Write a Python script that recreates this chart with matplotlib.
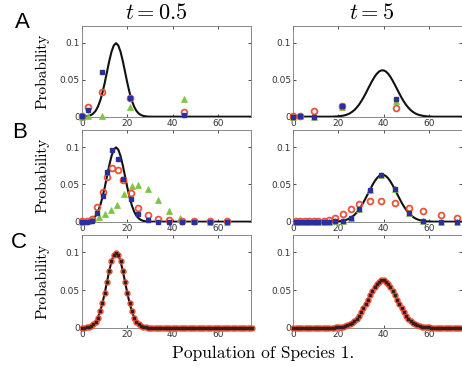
import numpy as np
import matplotlib
matplotlib.use("Agg")
import matplotlib.pyplot as plt

plt.rcParams['mathtext.fontset'] = 'cm'

# exact distribution (black curve), integer populations 0..75
pop = np.arange(0, 76)
exact_t05 = [0.0001, 0.0002, 0.0005, 0.0011, 0.0023, 0.0044, 0.0079, 0.0135, 0.0216, 0.0324,
             0.0456, 0.0605, 0.0753, 0.0880, 0.0966, 0.0997, 0.0966, 0.0880, 0.0753, 0.0605,
             0.0456, 0.0324, 0.0216, 0.0135, 0.0079, 0.0044, 0.0023, 0.0011, 0.0005, 0.0002,
             0.0001, 0, 0, 0, 0, 0, 0, 0, 0, 0,
             0, 0, 0, 0, 0, 0, 0, 0, 0, 0,
             0, 0, 0, 0, 0, 0, 0, 0, 0, 0,
             0, 0, 0, 0, 0, 0, 0, 0, 0, 0,
             0, 0, 0, 0, 0, 0]
exact_t5 = [0, 0, 0, 0, 0, 0, 0, 0, 0, 0,
            0, 0, 0, 0, 0, 0, 0, 0, 0.0002, 0.0003,
            0.0005, 0.0009, 0.0014, 0.0021, 0.0031, 0.0045, 0.0065, 0.0089, 0.0121, 0.0159,
            0.0204, 0.0255, 0.0312, 0.0372, 0.0432, 0.0489, 0.0541, 0.0583, 0.0613, 0.0628,
            0.0628, 0.0613, 0.0583, 0.0541, 0.0489, 0.0432, 0.0372, 0.0312, 0.0255, 0.0204,
            0.0159, 0.0121, 0.0089, 0.0065, 0.0045, 0.0031, 0.0021, 0.0014, 0.0009, 0.0005,
            0.0003, 0.0002, 0, 0, 0, 0, 0, 0, 0, 0,
            0, 0, 0, 0, 0, 0]

# row A
a05_x = [0, 2.8, 8.8, 21.1, 44.8]
a05_blue = [0.0005, 0.0095, 0.060, 0.025, 0.0025]
a05_red = [0.001, 0.0136, 0.0336, 0.025, 0.0068]
a05_green = [0.0, 0.0005, 0.0003, 0.0128, 0.0237]
a5_x = [0, 3, 9.3, 21.5, 45.6]
a5_blue = [0.0, 0.0008, 0.0, 0.015, 0.0235]
a5_red = [0.0005, 0.001, 0.0078, 0.015, 0.0123]
a5_green = [0.0, 0.001, 0.0, 0.0138, 0.021]

# row B
b05_x = [0, 2, 4.5, 6.8, 9.1, 11.1, 13.1, 15.7, 18.2, 21.4, 24.8, 29.2, 33.6, 38.5, 43.9, 49.5, 56.4, 63.7]
b05_red = [0.0005, 0.001, 0.004, 0.020, 0.040, 0.060, 0.0725, 0.070, 0.056, 0.038, 0.0187, 0.009,
           0.0036, 0.002, 0.0015, 0.001, 0.001, 0.001]
b05_blue = [0, 0, 0.001, 0.012, 0.035, 0.066, 0.096, 0.084, 0.057, 0.030, 0.010, 0.002,
            0, 0, 0, 0, 0, 0]
b05_gx = [0, 2.5, 5.0, 7.6, 10.1, 12.8, 15.3, 18.5, 21.9, 24.8, 29.2, 33.6, 38.5, 43.2, 49.5, 56.4, 63.7]
b05_green = [0, 0.001, 0.003, 0.006, 0.0103, 0.0156, 0.0223, 0.0378, 0.0476, 0.049, 0.0445, 0.029,
             0.0143, 0.0045, 0.001, 0, 0]
b5_x = [1, 3, 5, 7, 9, 11, 13.5, 16.0, 18.5, 22.2, 25.6, 29.3, 33.8, 39.0, 44.9, 51.1, 57.5, 65.2, 72.6]
b5_red = [0.0005, 0.0005, 0.0005, 0.0005, 0.0007, 0.001, 0.0015, 0.0027, 0.005, 0.0108, 0.0171,
          0.0232, 0.0278, 0.028, 0.0246, 0.019, 0.014, 0.0085, 0.0045]
b5_blue = [0, 0, 0, 0, 0, 0, 0, 0.0001, 0.0003, 0.0015, 0.0056, 0.0172, 0.042, 0.0628, 0.0438,
           0.0117, 0.0011, 0, 0]

W, H = 462, 367
fig = plt.figure(figsize=(W/100, H/100), dpi=100)

def make_ax(left, top, bottom, right):
    return fig.add_axes([left/W, 1-bottom/H, (right-left)/W, (bottom-top)/H])

rows = [(26, 116.7), (130, 221.7), (235, 327.7)]
left_axes = [make_ax(82, t, b, 251) for t, b in rows]
right_axes = [make_ax(293.3, t, b, 461.5) for t, b in rows]

BLUE = '#2b2f9e'
RED = '#ee5236'
GREEN = '#7dc444'

def markers(ax, x, red, blue, green, gx=None):
    ax.plot(gx if gx is not None else x, green, '^', ms=3.8, mfc=GREEN, mec=GREEN, mew=0.5,
            clip_on=False, zorder=3)
    ax.plot(x, red, 'o', ms=4.2, mfc='none', mec=RED, mew=1.3, clip_on=False, zorder=4)
    ax.plot(x, blue, 's', ms=2.6, mfc=BLUE, mec=BLUE, clip_on=False, zorder=5)

for ax in left_axes:
    ax.plot(pop, exact_t05, color='#111111', lw=1.5, zorder=2)
for ax in right_axes:
    ax.plot(pop, exact_t5, color='#111111', lw=1.5, zorder=2)

markers(left_axes[0], a05_x, a05_red, a05_blue, a05_green)
markers(right_axes[0], a5_x, a5_red, a5_blue, a5_green)
markers(left_axes[1], b05_x, b05_red, b05_blue, b05_green, b05_gx)
markers(right_axes[1], b5_x, b5_red, b5_blue, b5_blue)

# row C: all estimates sit on the exact curve
for ax, ex in [(left_axes[2], exact_t05), (right_axes[2], exact_t5)]:
    ax.plot(pop, ex, 'o', ms=3.6, mfc='none', mec=RED, mew=1.0, clip_on=False, zorder=4)
    ax.plot(pop, ex, 's', ms=1.8, mfc='#3a1c1c', mec='#3a1c1c', clip_on=False, zorder=5)

for ax in left_axes + right_axes:
    ax.set_xlim(0, 74.5)
    ax.set_ylim(0, 0.123)
    ax.set_xticks([0, 20, 40, 60])
    ax.set_yticks([0, 0.05, 0.1])
    ax.set_yticklabels(['0', '0.05', '0.1'])
    ax.tick_params(direction='in', top=True, right=True, length=2.5, width=0.6,
                   labelsize=6.5, pad=1.5, colors='#333333')
    for s in ax.spines.values():
        s.set_linewidth(0.6)
        s.set_color('#777777')

for t, b in rows:
    fig.text(42/W, 1-(t+b)/2/H, 'Probability', fontfamily='cmr10', fontsize=11,
             rotation=90, ha='center', va='center')

fig.text(156/W, 1-13/H, r'$t = 0.5$', fontsize=16, ha='center', va='center')
fig.text(372/W, 1-13/H, r'$t = 5$', fontsize=16, ha='center', va='center')
for lab, (x, y) in zip('ABC', [(22, 22), (19.5, 132), (18.5, 242)]):
    fig.text(x/W, 1-y/H, lab, fontfamily='Liberation Sans', fontsize=16, ha='center', va='center')
fig.text(263/W, 1-353/H, 'Population of Species 1.', fontfamily='cmr10', fontsize=12.5,
         ha='center', va='center')

fig.savefig('out.png', dpi=100)
